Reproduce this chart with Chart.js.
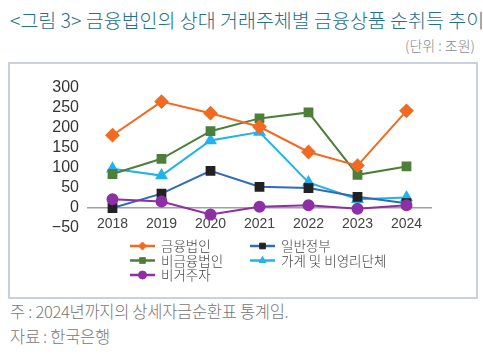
<!DOCTYPE html>
<html>
<head>
<meta charset="utf-8">
<script src="https://cdn.jsdelivr.net/npm/chart.js@4.4.1/dist/chart.umd.min.js"></script>
<style>
  body { margin: 0; width: 483px; height: 364px; background: #fff; position: relative; overflow: hidden;
         font-family: "Noto Sans CJK KR", "Noto Sans", sans-serif; }
  #title { position: absolute; left: 10px; top: 5px; font-size: 19.5px; font-weight: 300; color: #24708f; white-space: nowrap; }
  #unit { position: absolute; right: 8px; top: 35px; font-size: 14px; font-weight: 300; color: #888; }
  #box { position: absolute; left: 8px; top: 62px; width: 466px; height: 233px; border: 2px solid #c9d1dc; }
  #chartWrap { position: absolute; left: 2px; top: 0px; width: 465px; height: 233px; }
  .note { position: absolute; left: 10px; font-size: 16.5px; font-weight: 300; color: #777; white-space: nowrap; letter-spacing: -0.3px; }
</style>
</head>
<body>
<div id="title">&lt;그림 3&gt; 금융법인의 상대 거래주체별 금융상품 순취득 추이</div>
<div id="unit">(단위 : 조원)</div>
<div id="box"><div id="chartWrap"><canvas id="chart"></canvas></div></div>
<div class="note" style="top:299px">주 : 2024년까지의 상세자금순환표 통계임.</div>
<div class="note" style="top:324px">자료 : 한국은행</div>

<script>
/* ================= DATA ================= */
const years = ["2018", "2019", "2020", "2021", "2022", "2023", "2024"];
const financialCorp = [182, 266, 237, 203, 140, 106, 243];   // 금융법인
const nonFinancialCorp = [85, 123, 192, 224, 239, 83, 104];  // 비금융법인
const nonResident = [22, 16, -16, 3, 7, -2, 7];              // 비거주자
const government = [0, 36, 93, 53, 50, 28, 12];              // 일반정부
const households = [98, 81, 169, 190, 64, 22, 26];           // 가계 및 비영리단체
const yTicks = [300, 250, 200, 150, 100, 50, 0, -50];

const tickFont = { family: "'Liberation Sans Narrow', 'Liberation Sans', sans-serif", size: 16 };

function series(label, data, color, pointColor, style, radius) {
    return {
        label: label,
        data: data,
        borderColor: color,
        backgroundColor: pointColor,
        pointBackgroundColor: pointColor,
        pointBorderColor: pointColor,
        pointStyle: style,
        pointRadius: radius,
        borderWidth: 2,
        tension: 0
    };
}

const datasets = [
    series("금융법인", financialCorp, "#f26a21", "#f26a21", "rectRot", 6),
    series("비금융법인", nonFinancialCorp, "#4d7f3b", "#4d7f3b", "rect", 5.5),
    series("비거주자", nonResident, "#8d2fa5", "#8d2fa5", "circle", 5),
    series("일반정부", government, "#2e6bbb", "#222222", "rect", 5.5),
    series("가계 및 비영리단체", households, "#21b3ee", "#21b3ee", "triangle", 5.5)
];

/* ================= LEGEND (drawn in two columns) ================= */
const legendPlugin = {
    id: "colLegend",
    afterDraw(chart) {
        const ctx = chart.ctx;
        const cols = [{ x: 118, rows: [0, 1, 2] }, { x: 238, rows: [3, 4] }];
        ctx.save();
        ctx.font = "300 13.5px 'Noto Sans CJK KR', sans-serif";
        ctx.textBaseline = "middle";
        cols.forEach(col => {
            col.rows.forEach((di, r) => {
                const ds = chart.data.datasets[di];
                const y = 182 + r * 14.5;
                ctx.strokeStyle = ds.borderColor;
                ctx.lineWidth = 2.5;
                ctx.beginPath();
                ctx.moveTo(col.x, y);
                ctx.lineTo(col.x + 25, y);
                ctx.stroke();
                ctx.fillStyle = ds.pointBackgroundColor;
                ctx.strokeStyle = ds.pointBorderColor;
                ctx.lineWidth = 1;
                Chart.helpers.drawPoint(ctx, { pointStyle: ds.pointStyle, radius: 4, borderWidth: 1 }, col.x + 12.5, y);
                ctx.fillStyle = "#444";
                ctx.fillText(ds.label, col.x + 31, y);
            });
        });
        ctx.restore();
    }
};

/* ================= CHART ================= */
new Chart(document.getElementById("chart"), {
    type: "line",
    data: { labels: years, datasets: datasets },
    options: {
        responsive: true,
        maintainAspectRatio: false,
        animation: false,
        layout: { padding: { top: 24, right: 46, bottom: 69, left: 0 } },
        plugins: { legend: { display: false }, tooltip: { enabled: false } },
        scales: {
            x: {
                position: { y: 0 },
                offset: true,
                grid: { display: false, drawTicks: false },
                border: { display: true, color: "#a0a0a0", width: 1.5 },
                ticks: { color: "#444", padding: 8, font: { family: tickFont.family, size: 14 } }
            },
            y: {
                min: -50,
                max: 300,
                afterFit(s) { s.width = 76; },
                afterBuildTicks(s) { s.ticks = yTicks.map(v => ({ value: v })); },
                grid: { display: false, drawTicks: false },
                border: { display: false },
                ticks: {
                    autoSkip: false,
                    color: "#333",
                    padding: 9,
                    font: tickFont,
                    callback: v => v < 0 ? "\u2212" + Math.abs(v) : v
                }
            }
        }
    },
    plugins: [legendPlugin]
});
</script>
</body>
</html>
